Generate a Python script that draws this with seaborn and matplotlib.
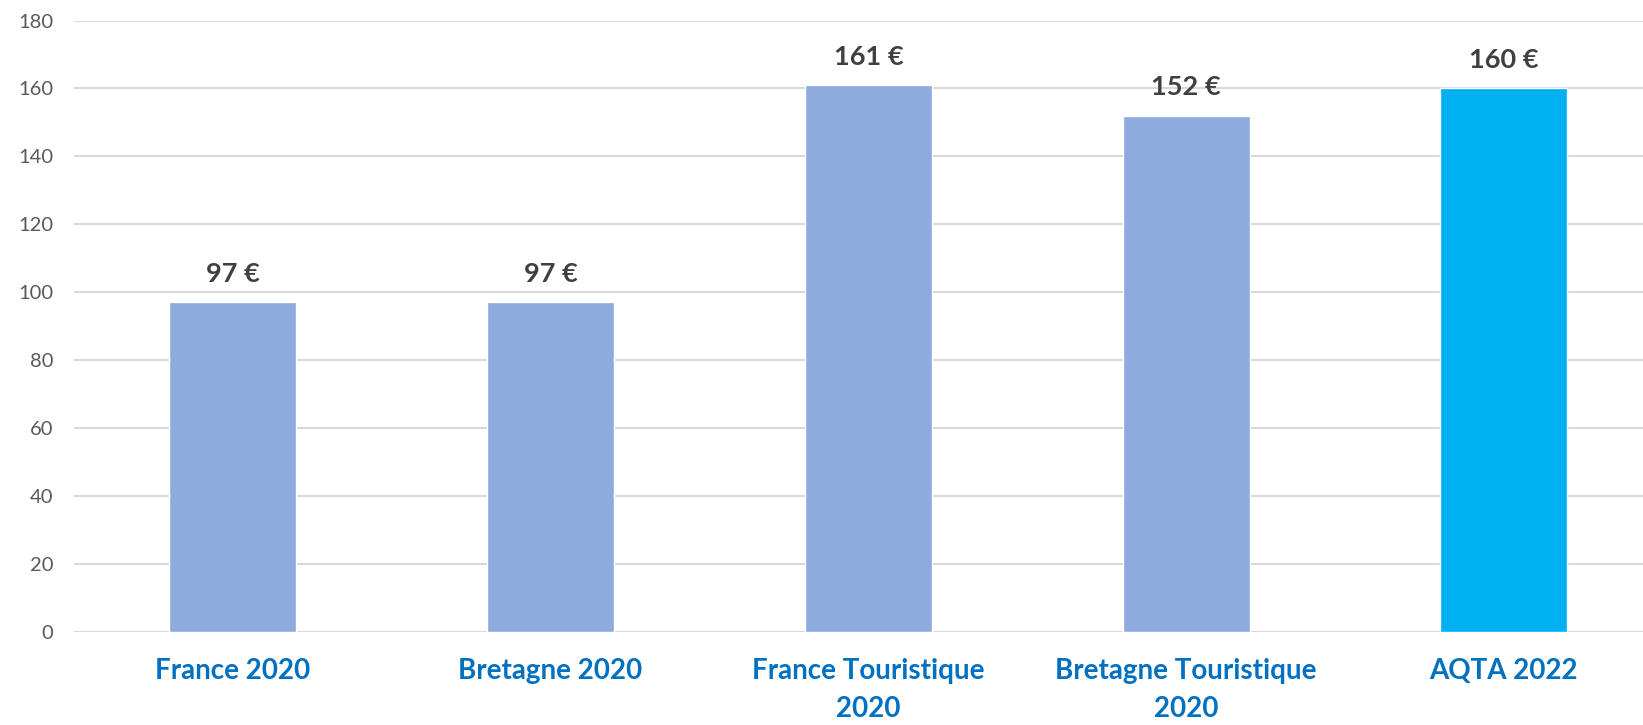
import matplotlib
matplotlib.use("Agg")
import matplotlib.pyplot as plt
import seaborn as sns
import pandas as pd

categories = ["France 2020", "Bretagne 2020", "France Touristique\n2020",
              "Bretagne Touristique\n2020", "AQTA 2022"]
values = [97, 97, 161, 152, 160]
value_labels = ["97 €", "97 €", "161 €", "152 €", "160 €"]
bar_colors = ["#8FAADC", "#8FAADC", "#8FAADC", "#8FAADC", "#00B0F0"]
y_ticks = [0, 20, 40, 60, 80, 100, 120, 140, 160, 180]

sns.set_theme(style="white")
plt.rcParams["font.family"] = ["Lato", "DejaVu Sans"]

df = pd.DataFrame({"categorie": categories, "valeur": values})

fig = plt.figure(figsize=(16.43, 7.25), dpi=100)
ax = fig.add_axes([74 / 1643, 1 - 632 / 725, 1 - 74 / 1643, (632 - 20.5) / 725])

sns.barplot(data=df, x="categorie", y="valeur", hue="categorie",
            palette=bar_colors, width=0.4, legend=False, ax=ax,
            saturation=1, zorder=3)

ax.set_ylim(0, 180)
ax.set_xlim(-0.5, (1643 - 74) / 317.75 - 0.5)
ax.set_yticks(y_ticks)
ax.yaxis.grid(True, color="#D9D9D9", linewidth=1.5, zorder=0)
ax.set_axisbelow(True)
for s in ax.spines.values():
    s.set_visible(False)

ax.set_xlabel("")
ax.set_ylabel("")
ax.tick_params(axis="y", length=0, pad=15, labelsize=14.5, labelcolor="#595959")
ax.tick_params(axis="x", length=0, pad=19)
ax.set_xticks(range(len(categories)))
ax.set_xticklabels(categories, fontsize=20, fontweight="bold", color="#0070C0",
                   linespacing=1.55, va="top")

for i, (v, lab) in enumerate(zip(values, value_labels)):
    ax.annotate(lab, (i, v), xytext=(0, 20.5), textcoords="offset points",
                ha="center", va="center", fontsize=19.5, fontweight="bold",
                color="#404040")

fig.savefig("out.png", dpi=100, facecolor="white")
